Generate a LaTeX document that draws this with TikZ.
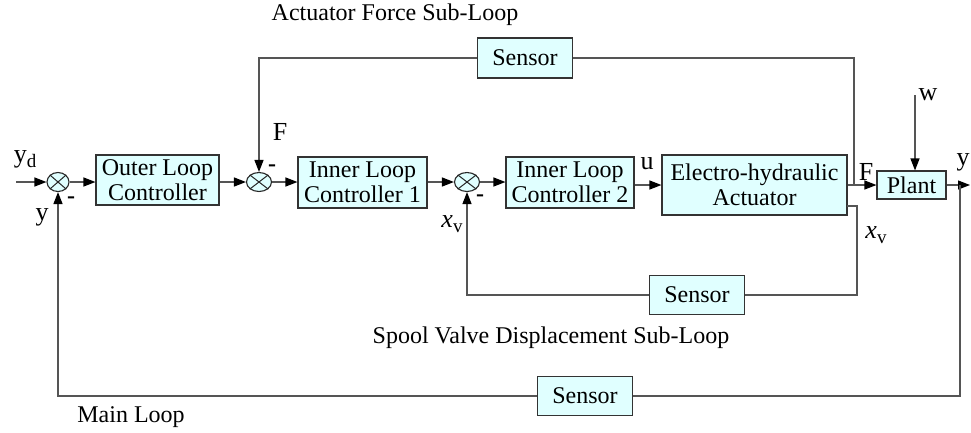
\documentclass[tikz,border=0pt]{standalone}
\usepackage{fontspec}
\setmainfont{Liberation Serif}
\usetikzlibrary{arrows.meta,shapes.geometric}
\definecolor{boxfill}{RGB}{224,255,255}
\definecolor{linec}{RGB}{85,85,85}
\newcommand{\lowsub}[1]{\raisebox{-5pt}{\fontsize{19}{19}\selectfont #1}}
\begin{document}
\begin{tikzpicture}[x=1pt,y=-1pt,
 blk/.style={draw=black!80, fill=boxfill, line width=1.1pt, inner sep=0pt, align=center, font=\fontsize{24}{25}\selectfont},
 sumj/.style={draw=black!85, ellipse, fill=boxfill, minimum width=25pt, minimum height=19pt, inner sep=0pt, line width=1.1pt},
 wire/.style={draw=linec, line width=1.2pt},
 arr/.style={wire, -{Triangle[length=12pt,width=9pt,color=black]}},
 lbl/.style={font=\fontsize{26}{26}\selectfont, inner sep=0pt},
 ttl/.style={font=\fontsize{24}{24}\selectfont, inner sep=0pt},
 mns/.style={font=\fontsize{24}{24}\selectfont\bfseries, inner sep=0pt}]
\useasboundingbox (0,0) rectangle (971,432);

% blocks
\node[blk, minimum width=123pt, minimum height=50pt] (OLC) at (157.5,180) {Outer Loop\\Controller};
\node[blk, minimum width=129pt, minimum height=51pt] (ILC1) at (362.5,182.5) {Inner Loop\\Controller 1};
\node[blk, minimum width=128pt, minimum height=51pt] (ILC2) at (570,182.5) {Inner Loop\\Controller 2};
\node[blk, minimum width=185pt, minimum height=60pt] (ACT) at (754.5,185) {Electro-hydraulic\\Actuator};
\node[blk, minimum width=69pt, minimum height=28pt] (PL) at (911.5,185) {Plant};
\node[blk, minimum width=95pt, minimum height=40pt] (SF) at (525,58) {Sensor};
\node[blk, minimum width=95pt, minimum height=39pt] (SX) at (697,295) {Sensor};
\node[blk, minimum width=95pt, minimum height=39pt] (SM) at (585,396) {Sensor};

% summing junctions
\node[sumj, minimum width=22pt] (S1) at (58,182) {};
\node[sumj] (S2) at (259,182) {};
\node[sumj] (S3) at (467,182) {};
\foreach \s in {S1,S2,S3}
  \draw[black!85, line width=1pt] (\s.north west) -- (\s.south east) (\s.north east) -- (\s.south west);

% free ends
\coordinate (yin) at (16,182);
\coordinate (fb1) at (854,185);
\coordinate (xa) at (847,206);
\coordinate (xb) at (857,206);
\coordinate (yb) at (960,185);
\coordinate (yo) at (970,185);
\coordinate (win) at (915,95);

% forward path
\draw[arr] (yin) -- (S1.west);
\draw[arr] (S1.east) -- (S1.east -| OLC.west);
\draw[arr] (OLC.east |- S2.west) -- (S2.west);
\draw[arr] (S2.east) -- (S2.east -| ILC1.west);
\draw[arr] (ILC1.east |- S3.west) -- (S3.west);
\draw[arr] (S3.east) -- (S3.east -| ILC2.west);
\draw[arr] (ILC2.east |- ACT.west) -- (ACT.west);
\draw[arr] (ACT.east |- PL.west) -- (PL.west);
\draw[arr] (PL.east) -- (yo);
\draw[arr] (win) -- (win |- PL.north);

% force sub-loop
\draw[wire] (fb1) |- (SF.east);
\draw[arr] (SF.west) -| (S2.north);

% spool valve sub-loop
\draw[wire] (xa) -- (xb) |- (SX.east);
\draw[arr] (SX.west) -| (S3.south);

% main loop
\draw[wire] (yb) |- (SM.east);
\draw[arr] (SM.west) -| (S1.south);

% labels
\node[ttl] (t1) at (395,15) {Actuator Force Sub-Loop};
\node[ttl] (t2) at (551,338) {Spool Valve Displacement Sub-Loop};
\node[ttl] (t3) at (131,417) {Main Loop};
\node[lbl] (lyd) at (25,159) {y\lowsub{d}};
\node[lbl] (ly1) at (42,217) {y};
\node[lbl] (lF1) at (280,132) {F};
\node[lbl] (lxv1) at (452,224) {\textit{x}\lowsub{v}};
\node[lbl] (lu) at (647,164) {u};
\node[lbl] (lF2) at (866,172) {F};
\node[lbl] (lxv2) at (876,235) {\textit{x}\lowsub{v}};
\node[lbl] (lw) at (928,95) {w};
\node[lbl] (ly2) at (963,162) {y};
\node[mns] (m1) at (71,200) {-};
\node[mns] (m2) at (272,168) {-};
\node[mns] (m3) at (480,198) {-};
\end{tikzpicture}
\end{document}
